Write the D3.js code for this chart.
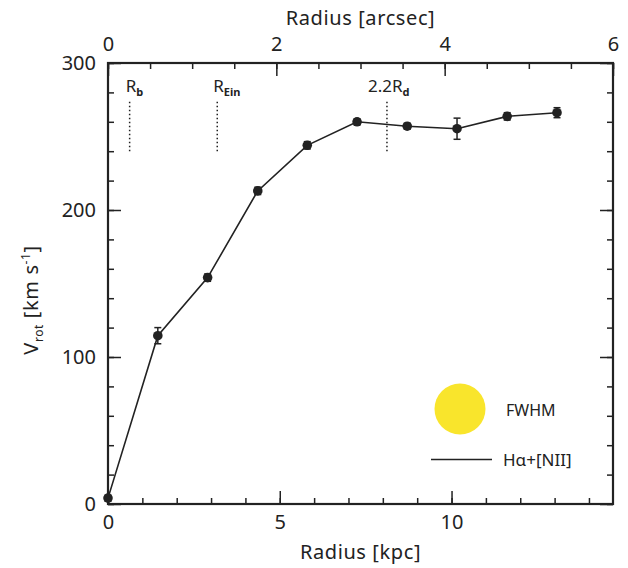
<!DOCTYPE html>
<html>
<head>
<meta charset="utf-8">
<script src="https://cdn.jsdelivr.net/npm/d3@7"></script>
<style>
  body { margin: 0; background: #fff; }
  text { font-family: "Noto Sans", "DejaVu Sans", sans-serif; fill: #222; }
</style>
</head>
<body>
<div id="myChart"></div>
<script>

// Data
var radius_kpc = [0, 1.45, 2.90, 4.36, 5.80, 7.25, 8.71, 10.16, 11.62, 13.07];
var vrot = [4, 114.5, 154, 213, 244, 260, 257, 255.3, 263.7, 266.2];
var vrot_err = [2, 5.5, 2.5, 2.5, 2.5, 2, 2, 7.2, 2.5, 3.4];

// Characteristic radii (kpc) and their labels
var marker_r = [0.63, 3.18, 8.12];
var marker_label = ["b", "Ein", "d"];
var marker_prefix = ["", "", "2.2"];
var marker_span = [240, 274];

// Axis ticks
var xticks_kpc = [0, 5, 10];
var xticks_arcsec = [0, 2, 4, 6];
var yticks = [0, 100, 200, 300];

var kpc_per_arcsec = 2.45;

// Main svg window Sizes
var width = 628;
var height = 568;
var padding = {top: 63, right: 15, bottom: 64, left: 108};
var charArea = {
	"width": width - padding.left - padding.right,
	"height": height - padding.top - padding.bottom
};

var canvass = d3.select("#myChart")
	.append("svg")
	.attr("width", width)
	.attr("height", height);

var g = canvass.append("g")
	.attr("transform", "translate(" + padding.left + "," + padding.top + ")");

// scales
var xScale = d3.scaleLinear()
	.domain([0, 6 * kpc_per_arcsec])
	.range([0, charArea.width]);

var xScaleTop = d3.scaleLinear()
	.domain([0, 6])
	.range([0, charArea.width]);

var yScale = d3.scaleLinear()
	.domain([0, 300])
	.range([charArea.height, 0]);

// inward ticks helper: major ticks with labels, minor ticks without
function styleAxis(sel) {
	sel.select(".domain").remove();
	sel.selectAll("line").attr("stroke", "#222").attr("stroke-width", 1.5);
	sel.selectAll("text").style("font-size", "20px").attr("fill", "#222");
}

var minorX = d3.range(0, 15, 1);
var minorXTop = d3.range(0, 6.01, 0.5);
var minorY = d3.range(0, 301, 20);

// bottom axis
g.append("g")
	.attr("transform", "translate(0," + charArea.height + ")")
	.call(d3.axisBottom(xScale).tickValues(minorX).tickSize(-6).tickFormat(""))
	.call(styleAxis);
g.append("g")
	.attr("transform", "translate(0," + charArea.height + ")")
	.call(d3.axisBottom(xScale).tickValues(xticks_kpc).tickSize(-13).tickPadding(8).tickFormat(d3.format("d")))
	.call(styleAxis)
	.selectAll("text").attr("y", 25).attr("dy", 0);

// top axis (arcsec)
g.append("g")
	.call(d3.axisTop(xScaleTop).tickValues(minorXTop).tickSize(-6).tickFormat(""))
	.call(styleAxis);
g.append("g")
	.call(d3.axisTop(xScaleTop).tickValues(xticks_arcsec).tickSize(-13).tickFormat(d3.format("d")))
	.call(styleAxis)
	.selectAll("text").attr("y", -12).attr("dy", 0);

// left axis
g.append("g")
	.call(d3.axisLeft(yScale).tickValues(minorY).tickSize(-6).tickFormat(""))
	.call(styleAxis);
g.append("g")
	.call(d3.axisLeft(yScale).tickValues(yticks).tickSize(-13).tickFormat(d3.format("d")))
	.call(styleAxis)
	.selectAll("text").attr("x", -12);

// right axis
g.append("g")
	.attr("transform", "translate(" + charArea.width + ",0)")
	.call(d3.axisRight(yScale).tickValues(minorY).tickSize(-6).tickFormat(""))
	.call(styleAxis);
g.append("g")
	.attr("transform", "translate(" + charArea.width + ",0)")
	.call(d3.axisRight(yScale).tickValues(yticks).tickSize(-13).tickFormat(""))
	.call(styleAxis);

// frame
g.append("rect")
	.attr("width", charArea.width)
	.attr("height", charArea.height)
	.attr("fill", "none")
	.attr("stroke", "#222")
	.attr("stroke-width", 2.2);

// axis titles
canvass.append("text")
	.attr("x", padding.left + charArea.width / 2)
	.attr("y", 559)
	.attr("text-anchor", "middle")
	.style("font-size", "20px")
	.style("letter-spacing", "0.6px")
	.text("Radius [kpc]");

canvass.append("text")
	.attr("x", padding.left + charArea.width / 2)
	.attr("y", 25)
	.attr("text-anchor", "middle")
	.style("font-size", "20px")
	.style("letter-spacing", "0.6px")
	.text("Radius [arcsec]");

var ylab = canvass.append("text")
	.attr("transform", "translate(38,300) rotate(-90)")
	.attr("text-anchor", "middle")
	.style("font-size", "20px")
	.style("letter-spacing", "0.6px");
ylab.append("tspan").text("V");
ylab.append("tspan").attr("dy", 5).style("font-size", "12px").text("rot");
ylab.append("tspan").attr("dy", -5).text(" [km s");
ylab.append("tspan").attr("dy", -8).style("font-size", "12px").text("-1");
ylab.append("tspan").attr("dy", 8).text("]");

// dotted markers for characteristic radii
marker_r.forEach(function(r, i) {
	g.append("line")
		.attr("x1", xScale(r)).attr("x2", xScale(r))
		.attr("y1", yScale(marker_span[0])).attr("y2", yScale(marker_span[1]))
		.attr("stroke", "#222")
		.attr("stroke-width", 1.5)
		.attr("stroke-dasharray", "1.5,2.5");

	var lab = g.append("text")
		.attr("x", xScale(r) - (marker_prefix[i] ? 19 : 4))
		.attr("y", yScale(marker_span[1]) - 9)
		.style("font-size", "17px");
	lab.append("tspan").text(marker_prefix[i] + "R");
	lab.append("tspan").attr("dy", 4).style("font-size", "11px").style("font-weight", "bold").text(marker_label[i]);
});

// rotation curve line
var line = d3.line()
	.x(function(d, i) { return xScale(radius_kpc[i]); })
	.y(function(d) { return yScale(d); });

g.append("path")
	.attr("fill", "none")
	.attr("stroke", "#222")
	.attr("stroke-width", 1.6)
	.attr("d", line(vrot));

// error bars
var errGrp = g.append("g").attr("stroke", "#222").attr("stroke-width", 1.5);
vrot.forEach(function(v, i) {
	var x = xScale(radius_kpc[i]);
	var y1 = yScale(v - vrot_err[i]);
	var y2 = yScale(v + vrot_err[i]);
	errGrp.append("line").attr("x1", x).attr("x2", x).attr("y1", y1).attr("y2", y2);
	errGrp.append("line").attr("x1", x - 3.5).attr("x2", x + 3.5).attr("y1", y1).attr("y2", y1);
	errGrp.append("line").attr("x1", x - 3.5).attr("x2", x + 3.5).attr("y1", y2).attr("y2", y2);
});

// dots
g.selectAll(".dot")
	.data(vrot)
	.enter()
	.append("circle")
	.attr("class", "dot")
	.attr("r", 4.8)
	.attr("cx", function(d, i) { return xScale(radius_kpc[i]); })
	.attr("cy", function(d) { return yScale(d); })
	.attr("fill", "#222");

// legend: FWHM beam and line
var legend = g.append("g")
	.attr("transform", "translate(" + (charArea.width - 261) + "," + (charArea.height - 159) + ")");

legend.append("circle")
	.attr("cx", 108)
	.attr("cy", 64)
	.attr("r", 25.5)
	.attr("fill", "#f9e52c");

legend.append("text")
	.attr("x", 154)
	.attr("y", 71)
	.style("font-size", "16px")
	.text("FWHM");

legend.append("line")
	.attr("x1", 79).attr("x2", 140)
	.attr("y1", 114.5).attr("y2", 114.5)
	.attr("stroke", "#222")
	.attr("stroke-width", 1.5);

legend.append("text")
	.attr("x", 151)
	.attr("y", 121)
	.style("font-size", "17px")
	.text("Hα+[NII]");

</script>
</body>
</html>
